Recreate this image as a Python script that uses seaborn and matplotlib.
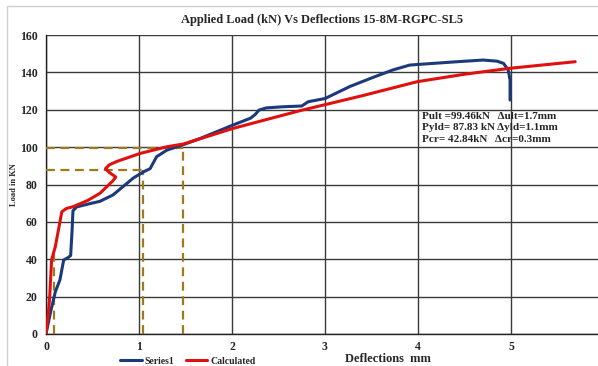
import numpy as np
import pandas as pd
import seaborn as sns
import matplotlib.pyplot as plt
from matplotlib.lines import Line2D

# Measured load-deflection response (Series1)
series1_defl = [0.0, 0.05, 0.10, 0.15, 0.19, 0.24, 0.265, 0.28, 0.29, 0.33, 0.45, 0.58, 0.72,
                0.87, 0.94, 1.05, 1.12, 1.15, 1.19, 1.30, 1.46, 1.66, 2.01, 2.20, 2.25, 2.29,
                2.37, 2.55, 2.75, 2.82, 3.00, 3.27, 3.50, 3.73, 3.91, 4.16, 4.45, 4.70,
                4.85, 4.92, 4.97, 4.99, 4.99]
series1_load = [0.0, 12.0, 22.5, 29.0, 39.6, 41.0, 42.0, 55.0, 66.0, 68.0, 69.5, 71.0, 74.4,
                80.6, 83.5, 86.8, 88.5, 91.3, 94.9, 98.4, 101.0, 104.7, 111.8, 115.5, 117.5, 119.8,
                121.0, 121.6, 122.0, 124.3, 126.0, 132.5, 137.0, 141.3, 143.9, 144.8, 145.8, 146.6,
                146.0, 144.8, 141.3, 135.9, 125.2]

# Calculated (model) response
calc_defl = [0.0, 0.025, 0.04, 0.06, 0.10, 0.17, 0.22, 0.29, 0.45, 0.58, 0.72, 0.75,
             0.68, 0.64, 0.68, 0.76, 1.01, 1.30, 1.48, 2.01, 2.73, 3.40, 3.99, 4.50, 4.99, 5.69]
calc_load = [0.0, 11.0, 20.0, 39.6, 46.7, 65.4, 67.2, 68.1, 71.5, 75.3, 82.0, 84.0,
             86.5, 88.5, 90.5, 92.3, 96.6, 100.2, 101.7, 110.0, 119.5, 127.5, 135.0, 139.0, 142.2, 145.7]

# Key points: ultimate, yield and cracking
p_ult, d_ult_line = 99.46, 1.47
p_yld, d_yld_line = 87.83, 1.04
p_cr, d_cr_line = 42.84, 0.09

x_ticks = [0, 1, 2, 3, 4, 5]
y_ticks = [0, 20, 40, 60, 80, 100, 120, 140, 160]

sns.set_theme(style="white")
plt.rcParams['font.family'] = ['Liberation Serif', 'DejaVu Serif']
plt.rcParams['font.weight'] = 'bold'

fig = plt.figure(figsize=(5.98, 3.66), dpi=100)
ax = fig.add_axes([46 / 598, 1 - 334 / 366, 1 - 46 / 598, 299 / 366])

df1 = pd.DataFrame({"Deflection": series1_defl, "Load": series1_load, "Series": "Series1"})
df2 = pd.DataFrame({"Deflection": calc_defl, "Load": calc_load, "Series": "Calculated"})

sns.lineplot(data=df1, x="Deflection", y="Load", sort=False, estimator=None,
             color="#1B3A7C", linewidth=2.2, ax=ax, zorder=4)
sns.lineplot(data=df2, x="Deflection", y="Load", sort=False, estimator=None,
             color="#E0100F", linewidth=2.2, ax=ax, zorder=5)

dash_kw = dict(color="#9E7A1C", linewidth=1.6, linestyle=(0, (4, 2.5)), zorder=3)
ax.plot([0, d_ult_line], [p_ult, p_ult], **dash_kw)
ax.plot([d_ult_line, d_ult_line], [0, p_ult], **dash_kw)
ax.plot([0, d_yld_line + 0.01], [p_yld, p_yld], **dash_kw)
ax.plot([d_yld_line, d_yld_line], [0, p_yld], **dash_kw)
ax.plot([d_cr_line, d_cr_line], [0, p_cr], **dash_kw)

ax.set_xlim(0, 552 / 93)
ax.set_ylim(0, 160)
ax.set_xticks(x_ticks)
ax.set_yticks(y_ticks)
ax.grid(True, color="#3a3a3a", linewidth=1.0)
ax.set_axisbelow(True)
for side in ["top", "right"]:
    ax.spines[side].set_visible(False)
for side in ["left", "bottom"]:
    ax.spines[side].set_color("#222222")
    ax.spines[side].set_linewidth(1.0)
ax.tick_params(axis="x", labelsize=8.5, length=0, pad=5)
ax.tick_params(axis="y", labelsize=8.5, length=0, pad=6)
for lbl in ax.get_xticklabels() + ax.get_yticklabels():
    lbl.set_fontweight("bold")

ax.set_xlabel("")
ax.set_ylabel("")
fig.text(388 / 598, 1 - 359 / 366, "Deflections  mm", ha="center", va="center",
         fontsize=9, fontweight="bold")
fig.text(14 / 598, 1 - 185 / 366, "Load in KN", ha="center", va="center",
         rotation=90, fontsize=6, fontweight="bold")
fig.text(322 / 598, 1 - 20 / 366, "Applied Load (kN) Vs Deflections 15-8M-RGPC-SL5",
         ha="center", va="center", fontsize=9, fontweight="bold")

ax.text(4.04, 119.0,
        "Pult =99.46kN   \u0394ult=1.7mm\n"
        "Pyld= 87.83 kN \u0394yld=1.1mm\n"
        "Pcr= 42.84kN   \u0394cr=0.3mm",
        ha="left", va="top", fontsize=8, fontweight="bold", linespacing=1.38, zorder=6)

handles = [Line2D([], [], color="#1B3A7C", linewidth=2.2, label="Series1"),
           Line2D([], [], color="#E0100F", linewidth=2.2, label="Calculated")]
fig.legend(handles=handles, loc="center", bbox_to_anchor=(188 / 598, 1 - 361 / 366),
           ncol=2, frameon=False, handlelength=2.2, columnspacing=1.2,
           handletextpad=0.3, borderpad=0, prop={"weight": "bold", "size": 7})

# thin outer frame lines of the chart area
fig.add_artist(Line2D([7 / 598, 1], [1 - 6 / 366, 1 - 6 / 366], color="#d0d0d0", linewidth=1.0))
fig.add_artist(Line2D([7 / 598, 7 / 598], [0, 1 - 6 / 366], color="#d0d0d0", linewidth=1.0))

fig.savefig("out.png", dpi=100)
